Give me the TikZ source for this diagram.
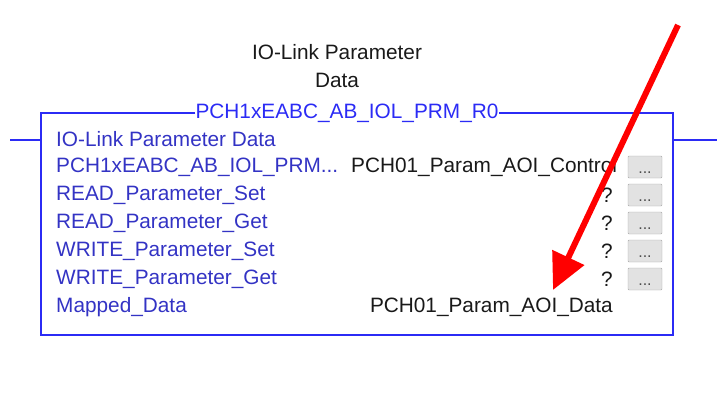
\documentclass[tikz,border=0pt]{standalone}
\usepackage{fontspec}
\setmainfont{Liberation Sans}
\usetikzlibrary{arrows.meta, positioning}

\definecolor{wireblue}{HTML}{2B2BF5}
\definecolor{pinblue}{HTML}{3333C4}
\definecolor{btngray}{HTML}{E2E2E2}
\definecolor{btnedge}{HTML}{A8A8A8}

\begin{document}
\begin{tikzpicture}[x=1pt, y=-1pt,
    pin/.style={anchor=west, text=pinblue, font=\fontsize{20.8}{22}\selectfont, inner sep=0pt},
    value/.style={anchor=east, text=black!90, font=\fontsize{20.8}{22}\selectfont, inner sep=0pt},
    dotbtn/.style={rectangle, draw=btnedge, fill=btngray, rounded corners=1pt,
        minimum width=34pt, minimum height=22pt, inner sep=0pt,
        text height=14pt, text depth=2pt,
        text=black!70, font=\fontsize{16}{16}\selectfont},
    caption/.style={align=center, text=black!90, font=\fontsize{20.8}{28}\selectfont}]
        \useasboundingbox (0,0) rectangle (717,394);

        \node[caption] (title) at (337,66) {IO-Link Parameter\\Data};

        % block outline
        \coordinate (bl) at (41,113);
        \coordinate (br) at (673,113);
        \node[text=wireblue, font=\fontsize{20.8}{22}\selectfont, inner sep=0pt] (aoiname) at (347,113)
            {PCH1xEABC\_AB\_IOL\_PRM\_R0};
        \draw[wireblue, line width=1.2pt]
            (aoiname.west) -- (bl) -- (41,335) -- (673,335) -- (br) -- (aoiname.east);

        % rung stubs
        \coordinate (inL) at (10,140);
        \coordinate (inR) at (41,140);
        \coordinate (outL) at (673,140);
        \coordinate (outR) at (717,140);
        \draw[wireblue, line width=1.2pt] (inL) -- (inR);
        \draw[wireblue, line width=1.2pt] (outL) -- (outR);

        \node[pin] (p_0) at (56,139) {IO-Link Parameter Data};
        \node[pin] (p_1) at (56,167) {PCH1xEABC\_AB\_IOL\_PRM...};
        \node[pin] (p_2) at (56,195) {READ\_Parameter\_Set};
        \node[pin] (p_3) at (56,223) {READ\_Parameter\_Get};
        \node[pin] (p_4) at (56,251) {WRITE\_Parameter\_Set};
        \node[pin] (p_5) at (56,279) {WRITE\_Parameter\_Get};
        \node[pin] (p_6) at (56,307) {Mapped\_Data};

        \node[value, anchor=west] (v_1) at (351,167) {PCH01\_Param\_AOI\_Control};
        \node[value] (v_2) at (613,195) {?};
        \node[value] (v_3) at (613,223) {?};
        \node[value] (v_4) at (613,251) {?};
        \node[value] (v_5) at (613,279) {?};
        \node[value] (v_6) at (613,307) {PCH01\_Param\_AOI\_Data};

        \node[dotbtn] (b_1) at (645,167) {...};
        \node[dotbtn] (b_2) at (645,195) {...};
        \node[dotbtn] (b_3) at (645,223) {...};
        \node[dotbtn] (b_4) at (645,251) {...};
        \node[dotbtn] (b_5) at (645,279) {...};

        % red pointer
        \coordinate (tail) at (678,25);
        \coordinate (tip) at (553,290);
        \draw[red, line width=6pt, -{Triangle[length=36pt, width=34pt]}] (tail) -- (tip);

    \end{tikzpicture}
\end{document}
